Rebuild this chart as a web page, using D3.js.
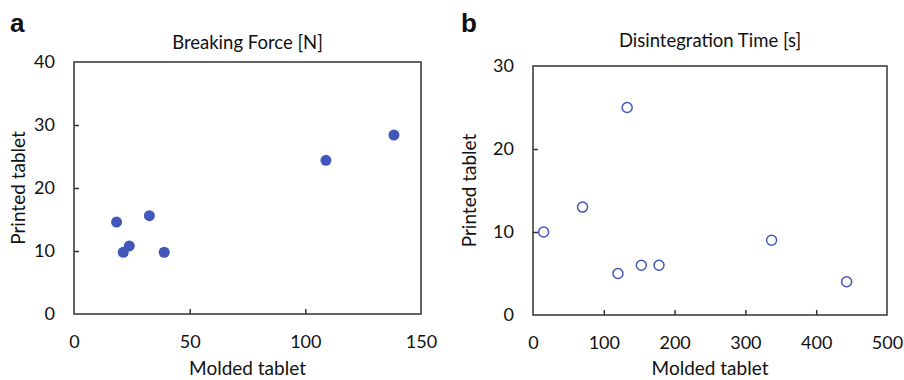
<!DOCTYPE html>
<html lang="en">
<head>
<meta charset="utf-8">
<title>Molded vs printed tablet</title>
<script src="https://cdn.jsdelivr.net/npm/d3@7"></script>
<style>
  body { margin: 0; background: #fff; }
  svg text { font-family: Lato, "Open Sans", sans-serif; fill: #111; }
</style>
</head>
<body>
<script>
// Breaking force [N]
var forceMolded = [18.4, 21.3, 23.9, 32.6, 39.0, 108.9, 138.3];
var forcePrinted = [14.6, 9.8, 10.8, 15.6, 9.8, 24.4, 28.4];
var forceXTicks = [0, 50, 100, 150];
var forceYTicks = [0, 10, 20, 30, 40];

// Disintegration time [s]
var timeMolded = [15, 70, 133, 120, 153, 178, 337, 443];
var timePrinted = [10, 13, 25, 5, 6, 6, 9, 4];
var timeXTicks = [0, 100, 200, 300, 400, 500];
var timeYTicks = [0, 10, 20, 30];

var W = 904, H = 380;
var blue = "#4357bb";

var svg = d3.select("body").append("svg").attr("width", W).attr("height", H);

function panel(o) {
  var g = svg.append("g");
  var x = d3.scaleLinear().domain([o.xTicks[0], o.xTicks[o.xTicks.length - 1]]).range([o.left, o.right]);
  var y = d3.scaleLinear().domain([o.yTicks[0], o.yTicks[o.yTicks.length - 1]]).range([o.bottom, o.top]);

  // frame
  g.append("rect")
    .attr("x", o.left).attr("y", o.top)
    .attr("width", o.right - o.left).attr("height", o.bottom - o.top)
    .attr("fill", "none").attr("stroke", "#333").attr("stroke-width", 1.5);

  // inward ticks
  var xa = d3.axisBottom(x).tickValues(o.xTicks).tickSize(-5).tickPadding(21).tickFormat(d3.format("d"));
  var ya = d3.axisLeft(y).tickValues(o.yTicks).tickSize(-5).tickPadding(19).tickFormat(d3.format("d"));
  var gx = g.append("g").attr("transform", "translate(0," + o.bottom + ")").call(xa);
  var gy = g.append("g").attr("transform", "translate(" + o.left + ",0)").call(ya);
  [gx, gy].forEach(function (a) {
    a.select(".domain").remove();
    a.selectAll("line").attr("stroke", "#333").attr("stroke-width", 1.5);
    a.selectAll("text").style("font-size", "18px").attr("fill", "#111");
  });
  gx.selectAll(".tick line").filter(function (d, i) { return i === 0 || i === o.xTicks.length - 1; }).remove();
  gy.selectAll(".tick line").filter(function (d, i) { return i === 0 || i === o.yTicks.length - 1; }).remove();

  // points
  g.selectAll("circle").data(o.xs).enter().append("circle")
    .attr("cx", function (d) { return x(d); })
    .attr("cy", function (d, i) { return y(o.ys[i]); })
    .attr("r", o.filled ? 5.5 : 5)
    .attr("fill", o.filled ? blue : "none")
    .attr("stroke", blue)
    .attr("stroke-width", o.filled ? 0 : 1.5);

  // titles and labels
  var cx = (o.left + o.right) / 2;
  g.append("text").attr("x", cx).attr("y", o.titleY).attr("text-anchor", "middle")
    .style("font-size", "18.5px").text(o.title);
  g.append("text").attr("x", cx).attr("y", 375).attr("text-anchor", "middle")
    .style("font-size", "19px").text("Molded tablet");
  g.append("text")
    .attr("transform", "translate(" + o.yLabelX + "," + ((o.top + o.bottom) / 2) + ") rotate(-90)")
    .attr("text-anchor", "middle").style("font-size", "19px").text("Printed tablet");
  g.append("text").attr("x", o.letterX).attr("y", 32)
    .style("font-family", "'Liberation Sans', Arial, sans-serif").style("font-weight", "bold")
    .style("font-size", "26px").text(o.letter);
}

panel({
  letter: "a", letterX: 10, title: "Breaking Force [N]", titleY: 49,
  left: 74, right: 421, top: 62, bottom: 314, yLabelX: 25,
  xTicks: forceXTicks, yTicks: forceYTicks, xs: forceMolded, ys: forcePrinted, filled: true
});

panel({
  letter: "b", letterX: 461, title: "Disintegration Time [s]", titleY: 47,
  left: 533, right: 887, top: 66, bottom: 315, yLabelX: 476,
  xTicks: timeXTicks, yTicks: timeYTicks, xs: timeMolded, ys: timePrinted, filled: false
});
</script>
</body>
</html>
